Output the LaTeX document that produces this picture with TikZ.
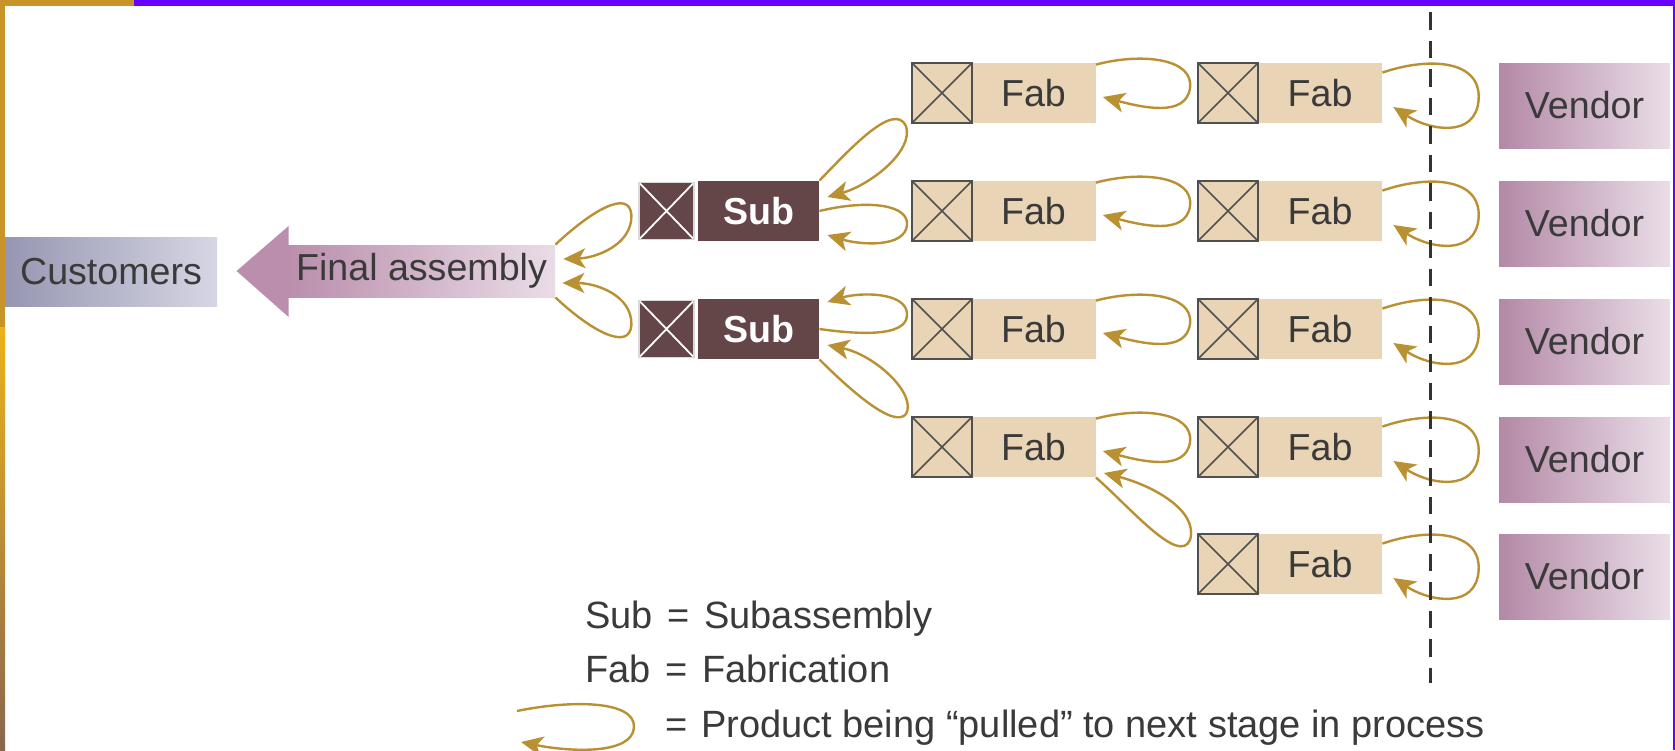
\documentclass[tikz,border=0pt]{standalone}
\usepackage{fontspec}
\setmainfont{Liberation Sans}
\usetikzlibrary{arrows.meta,calc}

\definecolor{fabfill}{RGB}{233,212,181}
\definecolor{subfill}{RGB}{100,70,72}
\definecolor{xgray}{RGB}{80,80,80}
\definecolor{pullgold}{RGB}{185,145,50}
\definecolor{txt}{RGB}{58,58,58}
\definecolor{custL}{RGB}{150,150,178}
\definecolor{custR}{RGB}{214,214,228}
\definecolor{finL}{RGB}{186,142,172}
\definecolor{finR}{RGB}{234,220,231}
\definecolor{vendL}{RGB}{180,136,166}
\definecolor{vendR}{RGB}{234,222,232}
\definecolor{band}{RGB}{102,0,255}
\definecolor{goldA}{RGB}{200,148,42}
\definecolor{goldB}{RGB}{236,178,26}
\definecolor{goldC}{RGB}{138,102,80}

\begin{document}
\begin{tikzpicture}[x=0.5pt,y=-0.5pt,
  every node/.style={font=\fontsize{18.8pt}{22pt}\selectfont, text=txt, inner sep=0pt},
  fabbox/.style={rectangle, fill=fabfill, minimum width=62pt, minimum height=30pt},
  subbox/.style={rectangle, fill=subfill, minimum width=60.5pt, minimum height=30pt,
    text=white, font=\fontsize{18.8pt}{22pt}\selectfont\bfseries},
  xfab/.style={rectangle, fill=fabfill, draw=xgray, line width=1pt,
    minimum width=30pt, minimum height=30pt,
    path picture={\draw[xgray, line width=0.8pt]
      (path picture bounding box.north west) -- (path picture bounding box.south east)
      (path picture bounding box.south west) -- (path picture bounding box.north east);}},
  xsub/.style={rectangle, fill=subfill, draw=white!85!black, line width=0.6pt,
    minimum width=27.5pt, minimum height=28.5pt,
    path picture={\draw[white, line width=0.9pt]
      (path picture bounding box.north west) -- (path picture bounding box.south east)
      (path picture bounding box.south west) -- (path picture bounding box.north east);}},
  vendbox/.style={rectangle, left color=vendL, right color=vendR,
    minimum width=85.5pt, minimum height=42.5pt},
  pull/.style={draw=pullgold, line width=1.2pt,
    -{Stealth[length=11pt, width=10pt, inset=3pt]}},
  cutline/.style={draw=black!80, line width=1.5pt, dash pattern=on 8.75pt off 5.5pt},
  legend/.style={anchor=base west, font=\fontsize{19pt}{22pt}\selectfont}
]
\useasboundingbox (0,0) rectangle (1675,750);
\fill[white] (0,0) rectangle (1675,750);

% customers and final assembly
\node[rectangle, left color=custL, right color=custR,
      minimum width=106pt, minimum height=34.5pt] (cust) at (111,271.5) {Customers};
\node[rectangle, left color=finL, right color=finR,
      minimum width=133.5pt, minimum height=26pt] (final) at (421.5,271) {Final assembly};
\fill[finL] ($(final.west)+(-51,0)$) -- ($(final.west)+(1,-45)$) -- ($(final.west)+(1,46)$) -- cycle;

% subassemblies
\node[subbox] (sub1) at (758.5,211) {Sub};
\node[xsub]   (xs1)  at (666.5,211) {};
\node[subbox] (sub2) at (758.5,329) {Sub};
\node[xsub]   (xs2)  at (666.5,329) {};

% first fabrication column
\foreach \r/\c in {1/93,2/211,3/329,4/447}{
  \node[fabbox] (fabA\r) at (1033.5,\c) {Fab};
  \node[xfab]   (xA\r)   at (942,\c) {};
}
% second fabrication column and vendors
\foreach \r/\c in {1/93,2/211,3/329,4/447,5/564}{
  \node[fabbox] (fabB\r) at (1320,\c) {Fab};
  \node[xfab]   (xB\r)   at (1228,\c) {};
  \node[vendbox] (vend\r) at (1584.5,\c+12.5) {Vendor};
}

% pulls from the first column into the second
\foreach \r in {1,2,3,4}{
  \draw[pull] ($(fabA\r.north east)+(0,2)$) .. controls +(45,-12) and +(4,-30) ..
    ($(xB\r.west)+(-7,-5)$) .. controls +(-4,30) and +(38,10) .. ($(fabA\r.east)+(7,4)$);
}
% pulls from the vendors
\foreach \r in {1,...,5}{
  \draw[pull] ($(fabB\r.north east)+(0,10)$) .. controls +(43,-15) and +(3,-42) ..
    ($(vend\r.west)+(-20,-5.5)$) .. controls +(-3,38) and +(37,24) .. ($(fabB\r.east)+(11,14)$);
}
% second column, lowest row, into the fourth row
\draw[pull] (fabA4.south east) .. controls +(37,33) and +(-11,25) ..
  ($(xB5.west)+(-7,-24)$) .. controls +(9,-30) and +(47,12) .. ($(fabA4.east)+(8,26)$);

% fabrication into subassemblies
\draw[pull] (sub1.north east) .. controls +(31,-32) and +(-12,-25) ..
  ($(xA1.south west)+(-5,2)$) .. controls +(8,25) and +(43,-12) .. ($(sub1.east)+(8,-14)$);
\draw[pull] (sub1.east) .. controls +(50,-12) and +(2,-20) ..
  ($(xA2.west)+(-4,14)$) .. controls +(-2,23) and +(33,10) .. ($(sub1.east)+(8,24)$);
\draw[pull] (sub2.east) .. controls +(50,7) and +(2,22) ..
  ($(xA3.west)+(-4,-16)$) .. controls +(-2,-21) and +(33,-10) .. ($(sub2.east)+(8,-27)$);
\draw[pull] (sub2.south east) .. controls +(31,31) and +(-12,15) ..
  ($(xA4.north west)+(-5,-2)$) .. controls +(11,-20) and +(48,10) .. ($(sub2.east)+(8,16)$);

% subassemblies into final assembly
\draw[pull] (final.north east) .. controls +(35,-33) and +(-2,-27) ..
  ($(xs1.west)+(-7,4)$) .. controls +(1,30) and +(32,-1) .. ($(final.east)+(8,-12)$);
\draw[pull] (final.south east) .. controls +(35,33) and +(-2,27) ..
  ($(xs2.west)+(-7,-4)$) .. controls +(1,-30) and +(33,0) .. ($(final.east)+(7,12)$);

% plant boundary
\coordinate (cutTop) at (1430,12);
\coordinate (cutBot) at (1430,683);
\draw[cutline] (cutTop) -- (cutBot);

% legend
\node[legend] (leg1) at (585,628) {Sub\hspace{2pt} = \hspace{2pt}Subassembly};
\node[legend] (leg2) at (585,682) {Fab\hspace{2pt} = \hspace{2pt}Fabrication};
\node[legend] (leg3) at (665,737) {= \hspace{1.5pt}Product being “pulled” to next stage in process};
\coordinate (iconA) at (517,711);
\coordinate (iconB) at (634,727);
\coordinate (iconC) at (521,742);
\draw[pull] (iconA) .. controls +(53,-11) and +(1,-27) .. (iconB)
  .. controls +(-1,28) and +(49,10) .. (iconC);

% slide frame
\fill[band] (134,0) rectangle (1675,6);
\fill[goldA] (0,0) rectangle (134,6);
\fill[goldA] (0,0) rectangle (5,327);
\shade[top color=goldB, bottom color=goldC] (0,327) rectangle (5,750);
\fill[band] (1672.5,0) rectangle (1675,750);
\end{tikzpicture}
\end{document}
